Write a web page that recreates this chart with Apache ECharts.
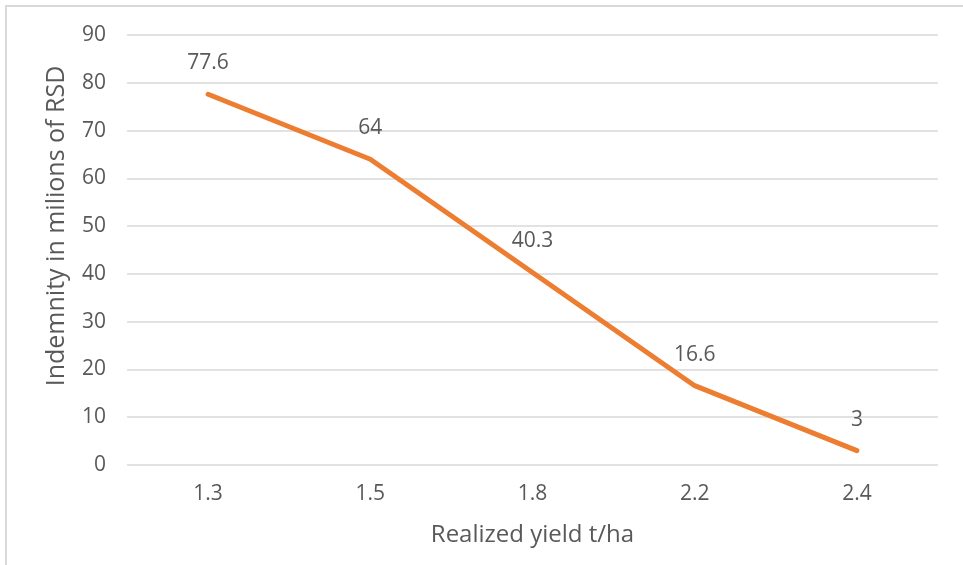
<!DOCTYPE html>
<html>
<head>
<meta charset="utf-8">
<script src="https://cdn.jsdelivr.net/npm/echarts@6/dist/echarts.min.js"></script>
<style>
html,body{margin:0;padding:0;background:#fff;}
#frame{position:absolute;left:5px;top:5px;width:958px;height:560px;border-left:2px solid #D9D9D9;border-top:2px solid #D9D9D9;box-sizing:border-box;}
#chart{position:absolute;left:0;top:0;width:963px;height:565px;}
</style>
</head>
<body>
<div id="frame"></div>
<div id="chart"></div>
<script>
const categories = ['1.3', '1.5', '1.8', '2.2', '2.4'];
const indemnity = [77.6, 64, 40.3, 16.6, 3];
const yTitle = 'Indemnity in milions of RSD';
const xTitle = 'Realized yield t/ha';

const chart = echarts.init(document.getElementById('chart'), null, {renderer: 'canvas'});
const font = '"Open Sans", "Liberation Sans", sans-serif';
chart.setOption({
  animation: false,
  grid: {left: 127, right: 25, top: 35, bottom: 100},
  xAxis: {
    type: 'category',
    data: categories,
    boundaryGap: true,
    axisLine: {show: false},
    axisTick: {show: false},
    axisLabel: {color: '#595959', fontSize: 21, fontFamily: font, margin: 19},
    name: xTitle,
    nameLocation: 'middle',
    nameGap: 58,
    nameTextStyle: {color: '#595959', fontSize: 24, fontFamily: font}
  },
  yAxis: {
    type: 'value',
    min: 0, max: 90, interval: 10,
    axisLine: {show: false},
    axisTick: {show: false},
    axisLabel: {color: '#595959', fontSize: 21, fontFamily: font, margin: 21},
    splitLine: {lineStyle: {color: '#D9D9D9', width: 1.5}},
    name: yTitle,
    nameLocation: 'middle',
    nameGap: 58,
    nameTextStyle: {color: '#595959', fontSize: 25, fontFamily: font, padding: [0, 0, 0, 48]}
  },
  series: [{
    type: 'line',
    data: indemnity,
    symbol: 'circle',
    symbolSize: 1,
    showSymbol: true,
    itemStyle: {color: '#ED7D31'},
    lineStyle: {color: '#ED7D31', width: 5, cap: 'round', join: 'round'},
    label: {show: true, position: 'top', distance: 20, color: '#595959', fontSize: 21, fontFamily: font}
  }]
});
</script>
</body>
</html>
